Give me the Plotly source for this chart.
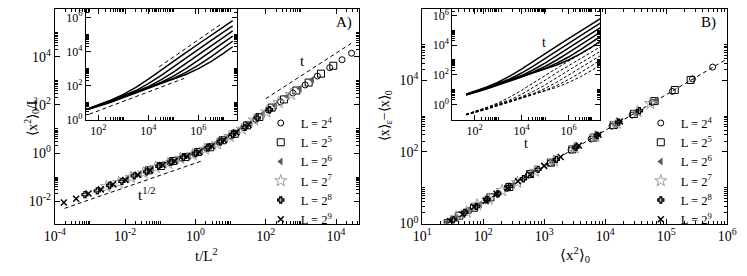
import plotly.graph_objects as go

W, H = 747, 276
FONT = "Liberation Serif"

L_names = ["L = 2<sup>4</sup>", "L = 2<sup>5</sup>", "L = 2<sup>6</sup>",
           "L = 2<sup>7</sup>", "L = 2<sup>8</sup>", "L = 2<sup>9</sup>"]

# ---------- Panel A (main): log10(t/L^2), log10(<x^2>_0/L) ----------
a_logx_L16 = [-0.73, -0.38, -0.03, 0.32, 0.67, 1.02, 1.37, 1.72, 2.07, 2.42, 2.77, 3.12, 3.47, 3.82, 4.17, 4.44]
a_logy_L16 = [-0.39, -0.22, -0.02, 0.19, 0.45, 0.71, 1.06, 1.40, 1.79, 2.13, 2.50, 2.83, 3.20, 3.55, 3.88, 4.15]
a_logx_L32 = [-1.33, -0.98, -0.63, -0.28, 0.07, 0.42, 0.77, 1.12, 1.47, 1.82, 2.17, 2.52, 2.87, 3.22, 3.57, 3.92]
a_logy_L32 = [-0.72, -0.54, -0.33, -0.17, 0.04, 0.24, 0.53, 0.80, 1.15, 1.50, 1.89, 2.23, 2.60, 2.93, 3.30, 3.63]
a_logx_L64 = [-1.93, -1.58, -1.23, -0.88, -0.53, -0.18, 0.17, 0.52, 0.87, 1.22, 1.57, 1.92, 2.27, 2.62, 2.97, 3.32]
a_logy_L64 = [-1.07, -0.89, -0.66, -0.48, -0.28, -0.12, 0.10, 0.31, 0.60, 0.90, 1.25, 1.62, 1.97, 2.35, 2.68, 3.05]
a_logx_L128 = [-2.53, -2.18, -1.83, -1.48, -1.13, -0.78, -0.43, -0.08, 0.27, 0.62, 0.97, 1.32, 1.67, 2.02, 2.37, 2.72]
a_logy_L128 = [-1.40, -1.23, -1.01, -0.83, -0.60, -0.43, -0.22, -0.07, 0.16, 0.38, 0.69, 0.99, 1.37, 1.71, 2.10, 2.43]
a_logx_L256 = [-3.14, -2.79, -2.44, -2.09, -1.74, -1.39, -1.04, -0.69, -0.34, 0.01, 0.36, 0.71, 1.06, 1.41, 1.76, 2.11]
a_logy_L256 = [-1.73, -1.57, -1.35, -1.18, -0.95, -0.78, -0.55, -0.38, -0.18, -0.02, 0.22, 0.46, 0.77, 1.07, 1.46, 1.80]
a_logx_L512 = [-3.74, -3.39, -3.04, -2.69, -2.34, -1.99, -1.64, -1.29, -0.94, -0.59, -0.24, 0.11, 0.46, 0.81, 1.16, 1.51]
a_logy_L512 = [-2.06, -1.90, -1.68, -1.51, -1.30, -1.12, -0.90, -0.72, -0.50, -0.33, -0.13, 0.04, 0.28, 0.54, 0.86, 1.18]

a_half_logx = [-3.72, 0.20]
a_half_logy = [-2.30, -0.32]
a_lin_logx = [2.00, 4.43]
a_lin_logy = [2.26, 4.56]

# ---------- Insets: log10(t) and log10(<x^2>_0) ----------
inset_logt = [1.64, 2.0, 2.5, 3.0, 3.5, 4.0, 4.5, 5.0, 5.5, 6.0, 6.5, 7.0, 7.37]
ins_x2_L16 = [0.69, 0.88, 1.16, 1.50, 1.91, 2.39, 2.92, 3.44, 3.94, 4.44, 4.93, 5.43, 5.80]
ins_x2_L32 = [0.68, 0.87, 1.14, 1.42, 1.72, 2.12, 2.59, 3.11, 3.64, 4.14, 4.64, 5.14, 5.50]
ins_x2_L64 = [0.67, 0.85, 1.12, 1.40, 1.65, 1.95, 2.34, 2.79, 3.31, 3.83, 4.33, 4.83, 5.20]
ins_x2_L128 = [0.66, 0.83, 1.09, 1.37, 1.64, 1.90, 2.19, 2.56, 3.00, 3.50, 4.02, 4.53, 4.90]
ins_x2_L256 = [0.65, 0.81, 1.06, 1.34, 1.61, 1.89, 2.15, 2.43, 2.78, 3.20, 3.69, 4.22, 4.60]
ins_x2_L512 = [0.64, 0.79, 1.04, 1.31, 1.56, 1.85, 2.13, 2.40, 2.66, 3.00, 3.41, 3.89, 4.28]
# right inset dashed curves: log10(<x>_eps - <x>_0)
ins_dx_L16 = [-0.66, -0.48, -0.22, 0.10, 0.49, 0.95, 1.46, 1.96, 2.44, 2.92, 3.38, 3.85, 4.20]
ins_dx_L32 = [-0.67, -0.49, -0.24, 0.02, 0.30, 0.68, 1.13, 1.63, 2.14, 2.62, 3.09, 3.56, 3.90]
ins_dx_L64 = [-0.68, -0.51, -0.26, 0.00, 0.23, 0.51, 0.88, 1.31, 1.81, 2.31, 2.78, 3.25, 3.60]
ins_dx_L128 = [-0.69, -0.53, -0.29, -0.03, 0.22, 0.46, 0.73, 1.08, 1.50, 1.98, 2.47, 2.95, 3.30]
ins_dx_L256 = [-0.70, -0.55, -0.32, -0.06, 0.19, 0.45, 0.69, 0.95, 1.28, 1.68, 2.14, 2.64, 3.00]
ins_dx_L512 = [-0.71, -0.57, -0.34, -0.09, 0.14, 0.41, 0.67, 0.92, 1.16, 1.48, 1.86, 2.31, 2.68]

ins_lo_logt = [1.64, 5.43]
ins_lo_logy = [0.34, 2.43]
ins_hi_logt = [4.43, 6.95]
ins_hi_logy = [3.10, 5.65]

# ---------- Panel B (main): log10(<x^2>_0), log10(<x>_eps - <x>_0) ----------
b_logx_L16 = [1.50, 1.77, 2.07, 2.39, 2.74, 3.10, 3.44, 3.77, 4.11, 4.44, 4.77, 5.10, 5.43, 5.76]
b_logy_L16 = [0.11, 0.36, 0.68, 0.98, 1.35, 1.69, 2.05, 2.36, 2.72, 3.03, 3.38, 3.69, 4.04, 4.37]
b_logx_L32 = [1.42, 1.61, 1.85, 2.12, 2.43, 2.77, 3.11, 3.46, 3.81, 4.14, 4.47, 4.81, 5.14, 5.40]
b_logy_L32 = [0.01, 0.22, 0.44, 0.73, 1.02, 1.38, 1.70, 2.07, 2.40, 2.75, 3.06, 3.42, 3.73, 4.01]
b_logx_L64 = [1.40, 1.56, 1.75, 1.95, 2.21, 2.49, 2.79, 3.13, 3.49, 3.83, 4.16, 4.50, 4.83]
b_logy_L64 = [0.02, 0.15, 0.36, 0.54, 0.82, 1.08, 1.40, 1.72, 2.10, 2.42, 2.77, 3.09, 3.44]
b_logx_L128 = [1.55, 1.73, 1.90, 2.09, 2.31, 2.56, 2.85, 3.16, 3.50, 3.84, 4.19, 4.53, 4.74]
b_logy_L128 = [0.16, 0.32, 0.52, 0.68, 0.92, 1.15, 1.46, 1.75, 2.11, 2.43, 2.80, 3.12, 3.35]
b_logx_L256 = [1.51, 1.70, 1.89, 2.06, 2.24, 2.43, 2.66, 2.90, 3.20, 3.52, 3.87, 4.22, 4.56]
b_logy_L256 = [0.10, 0.31, 0.48, 0.67, 0.83, 1.04, 1.25, 1.51, 1.79, 2.13, 2.46, 2.83, 3.15]
b_logx_L512 = [1.46, 1.66, 1.85, 2.04, 2.22, 2.40, 2.57, 2.77, 3.00, 3.27, 3.57, 3.89, 4.24]
b_logy_L512 = [0.07, 0.25, 0.46, 0.63, 0.83, 0.99, 1.18, 1.36, 1.61, 1.86, 2.18, 2.48, 2.85]

b_fit_logx = [1.35, 6.0]
b_fit_logy = [-0.05, 4.6]


def p(v):
    return [10 ** e for e in v]


styles = [
    dict(symbol="circle-open", size=6, color="black", line=dict(width=1, color="black")),
    dict(symbol="square-open", size=7, color="black", line=dict(width=1, color="black")),
    dict(symbol="triangle-left", size=7, color="#5a5a5a", line=dict(width=0)),
    dict(symbol="star-open", size=9, color="#9a9a9a", line=dict(width=1, color="#9a9a9a")),
    dict(symbol="cross-open", size=5, color="black", line=dict(width=1.3, color="black")),
    dict(symbol="x-thin-open", size=6, color="black", line=dict(width=1.5, color="black")),
]

A = [(a_logx_L16, a_logy_L16), (a_logx_L32, a_logy_L32), (a_logx_L64, a_logy_L64),
     (a_logx_L128, a_logy_L128), (a_logx_L256, a_logy_L256), (a_logx_L512, a_logy_L512)]
B = [(b_logx_L16, b_logy_L16), (b_logx_L32, b_logy_L32), (b_logx_L64, b_logy_L64),
     (b_logx_L128, b_logy_L128), (b_logx_L256, b_logy_L256), (b_logx_L512, b_logy_L512)]
INS = [ins_x2_L16, ins_x2_L32, ins_x2_L64, ins_x2_L128, ins_x2_L256, ins_x2_L512]
INSD = [ins_dx_L16, ins_dx_L32, ins_dx_L64, ins_dx_L128, ins_dx_L256, ins_dx_L512]

fig = go.Figure()

dash_line = dict(color="black", width=1, dash="4px,3px")

# Panel A main
fig.add_trace(go.Scatter(x=p(a_half_logx), y=p(a_half_logy), mode="lines", line=dash_line,
                         showlegend=False, xaxis="x", yaxis="y"))
fig.add_trace(go.Scatter(x=p(a_lin_logx), y=p(a_lin_logy), mode="lines", line=dash_line,
                         showlegend=False, xaxis="x", yaxis="y"))
for (lx, ly), st, nm in zip(A, styles, L_names):
    fig.add_trace(go.Scatter(x=p(lx), y=p(ly), mode="markers", marker=st, name=nm,
                             xaxis="x", yaxis="y", legend="legend"))

# Panel B main
fig.add_trace(go.Scatter(x=p(b_fit_logx), y=p(b_fit_logy), mode="lines", line=dash_line,
                         showlegend=False, xaxis="x2", yaxis="y2"))
for (lx, ly), st, nm in zip(B, styles, L_names):
    fig.add_trace(go.Scatter(x=p(lx), y=p(ly), mode="markers", marker=st, name=nm,
                             xaxis="x2", yaxis="y2", legend="legend2"))

# Inset A
for ys in INS:
    fig.add_trace(go.Scatter(x=p(inset_logt), y=p(ys), mode="lines",
                             line=dict(color="black", width=1.5), showlegend=False,
                             xaxis="x3", yaxis="y3"))
fig.add_trace(go.Scatter(x=p(ins_lo_logt), y=p(ins_lo_logy), mode="lines", line=dash_line,
                         showlegend=False, xaxis="x3", yaxis="y3"))
fig.add_trace(go.Scatter(x=p(ins_hi_logt), y=p(ins_hi_logy), mode="lines", line=dash_line,
                         showlegend=False, xaxis="x3", yaxis="y3"))

# Inset B
for ys in INS:
    fig.add_trace(go.Scatter(x=p(inset_logt), y=p(ys), mode="lines",
                             line=dict(color="black", width=1.5), showlegend=False,
                             xaxis="x4", yaxis="y4"))
for ys in INSD:
    fig.add_trace(go.Scatter(x=p(inset_logt), y=p(ys), mode="lines",
                             line=dict(color="black", width=1, dash="3px,2px"), showlegend=False,
                             xaxis="x4", yaxis="y4"))


def ax(domain, rng, major_exps, minor_ks, minor_exps, size, anchor):
    minors = [k * 10.0 ** e for e in minor_exps for k in minor_ks]
    return dict(type="log", domain=domain, range=rng,
                tickmode="array", tickvals=[10.0 ** e for e in major_exps],
                ticktext=["10<sup>%d</sup>" % e for e in major_exps],
                showline=True, linecolor="black", linewidth=1, mirror="ticks",
                ticks="inside", ticklen=5, tickcolor="black", showgrid=False, zeroline=False,
                tickfont=dict(family=FONT, size=size, color="black"), anchor=anchor,
                minor=dict(tickmode="array", tickvals=minors, ticks="inside", ticklen=3,
                           tickcolor="black", showgrid=False))


def dx(a, b):
    return [a / W, b / W]


def dy(top, bot):
    return [1 - bot / H, 1 - top / H]


K10 = [2, 3, 4, 5, 6, 7, 8, 9, 10]
K9 = [2, 3, 4, 5, 6, 7, 8, 9]

fig.update_layout(
    width=W, height=H, margin=dict(l=0, r=0, t=0, b=0),
    paper_bgcolor="white", plot_bgcolor="rgba(0,0,0,0)",
    font=dict(family=FONT, color="black", size=14),
    xaxis=ax(dx(45, 358), [-4, 4.65], [-4, -2, 0, 2, 4], K10, [-4, -2, 0, 2, 4], 14, "y"),
    yaxis=ax(dy(8, 230), [-2.93, 6], [-2, 0, 2, 4, 6], K10, [-4, -2, 0, 2, 4], 14, "x"),
    xaxis2=ax(dx(423, 737), [1, 6], [1, 2, 3, 4, 5, 6], K9, [1, 2, 3, 4, 5], 14, "y2"),
    yaxis2=ax(dy(8, 230), [0, 6], [0, 2, 4, 6], K10, [0, 2, 4], 14, "x2"),
    xaxis3=ax(dx(77, 233), [1.5, 7.56], [2, 4, 6], K10, [0, 2, 4, 6], 12, "y3"),
    yaxis3=ax(dy(8, 123), [0, 6.5], [0, 2, 4, 6], K10, [0, 2, 4, 6], 12, "x3"),
    xaxis4=ax(dx(454, 606), [1.05, 7.34], [2, 4, 6], K10, [0, 2, 4, 6], 12, "y4"),
    yaxis4=ax(dy(8, 123), [-1.05, 6.46], [0, 2, 4, 6], K10, [-2, 0, 2, 4, 6], 12, "x4"),
    legend=dict(x=257 / W, y=1 - 111 / H, xanchor="left", yanchor="top",
                bgcolor="rgba(0,0,0,0)", font=dict(family=FONT, size=12.5), itemwidth=30,
                tracegroupgap=0),
    legend2=dict(x=648 / W, y=1 - 111 / H, xanchor="left", yanchor="top",
                 bgcolor="rgba(0,0,0,0)", font=dict(family=FONT, size=12.5), itemwidth=30,
                 tracegroupgap=0),
    showlegend=True,
)

ann = [
    dict(text="A)", x=343, y=22, size=15),
    dict(text="B)", x=718, y=22, size=15),
    dict(text="t", x=300, y=62, size=15),
    dict(text="t<sup>1/2</sup>", x=140, y=200, size=15),
    dict(text="t", x=548, y=43, size=14),
    dict(text="t", x=530, y=147, size=14),
    dict(text="t/L<sup>2</sup>", x=201, y=263, size=15),
    dict(text="⟨x<sup>2</sup>⟩<sub>0</sub>", x=580, y=263, size=15),
]
for a in ann:
    fig.add_annotation(text=a["text"], x=a["x"] / W, y=1 - a["y"] / H, xref="paper", yref="paper",
                       showarrow=False, font=dict(family=FONT, size=a["size"], color="black"),
                       xanchor="center", yanchor="middle")
fig.add_annotation(text="⟨x<sup>2</sup>⟩<sub>0</sub>/L", x=9 / W, y=1 - 119 / H, xref="paper",
                   yref="paper", showarrow=False, textangle=-90,
                   font=dict(family=FONT, size=14, color="black"))
fig.add_annotation(text="⟨x⟩<sub>ε</sub>−⟨x⟩<sub>0</sub>", x=385 / W, y=1 - 119 / H, xref="paper",
                   yref="paper", showarrow=False, textangle=-90,
                   font=dict(family=FONT, size=14, color="black"))

fig.write_html("out.html", config={"displayModeBar": False},
               post_script="document.body.style.margin='0px';document.body.style.overflow='hidden';")
